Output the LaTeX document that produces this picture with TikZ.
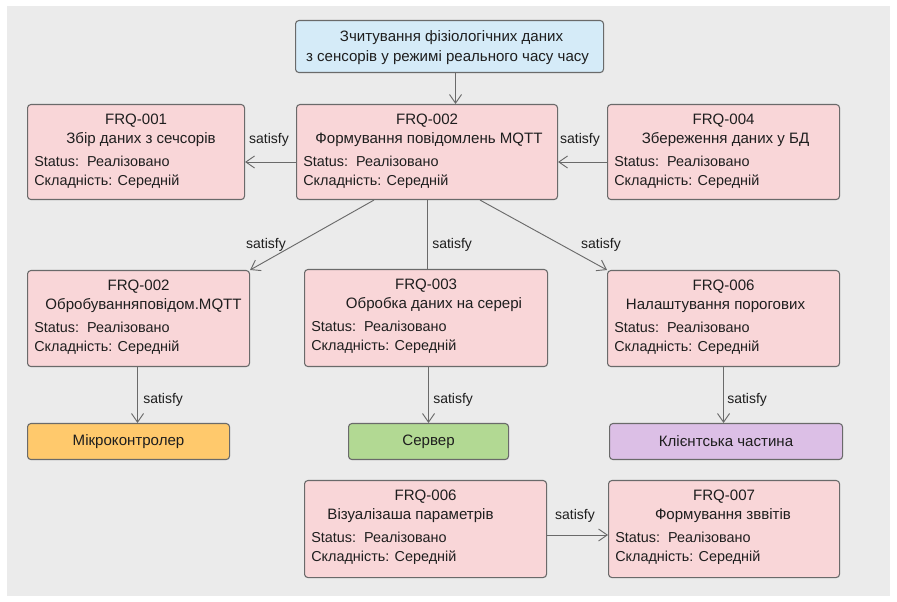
\documentclass[tikz,border=0pt]{standalone}
\usepackage{fontspec}
\setmainfont{Liberation Sans}
\usetikzlibrary{arrows.meta,calc}

\definecolor{panel}{HTML}{EBEBEB}
\definecolor{edge}{HTML}{6A6A6A}
\definecolor{reqfill}{HTML}{F9D6D8}
\definecolor{srcfill}{HTML}{D5EBF8}
\definecolor{mcufill}{HTML}{FFC96C}
\definecolor{srvfill}{HTML}{B2D993}
\definecolor{clifill}{HTML}{DCBFE6}
\definecolor{ink}{HTML}{1E1E1E}

\tikzset{
  box/.style={draw=edge, line width=0.8pt, rounded corners=2.5pt, inner sep=0pt},
  head/.style={inner sep=0pt, text=ink, font=\fontsize{11.3}{13}\selectfont},
  txt/.style={inner sep=0pt, text=ink, font=\fontsize{10.8}{12}\selectfont},
  lbl/.style={inner sep=0pt, text=ink, font=\fontsize{10.5}{12}\selectfont},
  arr/.style={draw=edge, line width=0.7pt, -{Straight Barb[length=6.5pt,width=9pt]}},
  plain/.style={draw=edge, line width=0.7pt},
}

% requirement block: [title shift], name, left, top, width, height, id, title
\newcommand\reqblock[8][0]{%
  \node[box, fill=reqfill, anchor=north west, minimum width=#5*0.75pt,
        minimum height=#6*0.75pt] (#2) at (#3,#4) {};
  \node[head, anchor=mid] (#2-id) at ($(#2.north)+(0,17)$) {#7};
  \node[head, anchor=mid] (#2-title) at ($(#2.north)+(#1,36)$) {#8};
  \node[txt, anchor=mid west] (#2-status) at ($(#2.north west)+(7,59)$) {Status:\ \ Реалізовано};
  \node[txt, anchor=mid west] (#2-level) at ($(#2.north west)+(7,78)$) {Складність: Середній};
}

\begin{document}
\begin{tikzpicture}[x=0.75pt, y=-0.75pt]
  \useasboundingbox (0,0) rectangle (897,602);
  \fill[panel] (7,6) rectangle (890,596);

  % data source
  \node[box, fill=srcfill, anchor=north west, minimum width=308*0.75pt,
        minimum height=52*0.75pt] (src) at (295,20) {};
  \node[head, anchor=mid] (src-l1) at ($(src.north)+(2,18)$) {Зчитування фізіологічних даних};
  \node[head, anchor=mid] (src-l2) at ($(src.north)+(-2,38)$) {з сенсорів у режимі реального часу часу};

  % first row
  \reqblock[5]{r1}{27}{104}{217}{95}{FRQ-001}{Збір даних з сечсорів}
  \reqblock[2]{r2}{296}{104}{261}{95}{FRQ-002}{Формування повідомлень MQTT}
  \reqblock[2]{r4}{607}{104}{232}{95}{FRQ-004}{Збереження даних у БД}

  % second row
  \reqblock[5]{r5}{27}{270}{222}{96}{FRQ-002}{Обробуванняповідом.MQTT}
  \reqblock[8]{r6}{304}{269}{243}{97}{FRQ-003}{Обробка даних на серері}
  \reqblock[-8]{r7}{607}{270}{232}{96}{FRQ-006}{Налаштування порогових}

  % components
  \node[box, fill=mcufill, anchor=north west, minimum width=202*0.75pt,
        minimum height=36*0.75pt, head] (mcu) at (27,423) {Мікроконтролер};
  \node[box, fill=srvfill, anchor=north west, minimum width=160*0.75pt,
        minimum height=36*0.75pt, head] (srv) at (348,423) {Сервер};
  \node[box, fill=clifill, anchor=north west, minimum width=233*0.75pt,
        minimum height=36*0.75pt, head] (cli) at (609,423) {Клієнтська частина};

  % bottom row
  \reqblock[-15]{r8}{304}{480}{242}{97}{FRQ-006}{Візуалізаша параметрів}
  \reqblock[-1]{r9}{608}{480}{231}{97}{FRQ-007}{Формування зввітів}

  % connector end points
  \coordinate (srcout) at ($(src.south)+(6,0)$);
  \coordinate (r2w) at ($(r2.north west)+(0,58)$);
  \coordinate (r2e) at ($(r2.north east)+(0,58)$);
  \coordinate (r1e) at ($(r1.north east)+(0,58)$);
  \coordinate (r4w) at ($(r4.north west)+(0,58)$);
  \coordinate (r2sl) at ($(r2.south west)+(78,0)$);
  \coordinate (r2sr) at ($(r2.south west)+(184,0)$);
  \coordinate (r5out) at ($(r5.south)+(-1,0)$);
  \coordinate (r8e) at ($(r8.north east)+(0,55)$);
  \coordinate (r9w) at ($(r9.north west)+(0,55)$);

  % connectors
  \draw[arr] (srcout) -- (srcout |- r2.north);
  \draw[arr] (r2w) -- (r1e);
  \draw[arr] (r4w) -- (r2e);
  \draw[arr] (r2sl) -- (r5.north east);
  \draw[plain] (r2.south) -- (r2.south |- r6.north);
  \draw[arr] (r2sr) -- (r7.north west);
  \draw[arr] (r5out) -- (r5out |- mcu.north);
  \draw[arr] (srv.north |- r6.south) -- (srv.north);
  \draw[arr] (r7.south) -- (r7.south |- cli.north);
  \draw[arr] (r8e) -- (r9w);

  % relation labels
  \node[lbl] (s1) at (269,140) {satisfy};
  \node[lbl] (s2) at (580,140) {satisfy};
  \node[lbl] (s3) at (266,245) {satisfy};
  \node[lbl, anchor=west] (s4) at (432,245) {satisfy};
  \node[lbl] (s5) at (601,245) {satisfy};
  \node[lbl, anchor=west] (s6) at (143,400) {satisfy};
  \node[lbl, anchor=west] (s7) at (433,400) {satisfy};
  \node[lbl, anchor=west] (s8) at (727,400) {satisfy};
  \node[lbl] (s9) at (575,516) {satisfy};
\end{tikzpicture}
\end{document}
